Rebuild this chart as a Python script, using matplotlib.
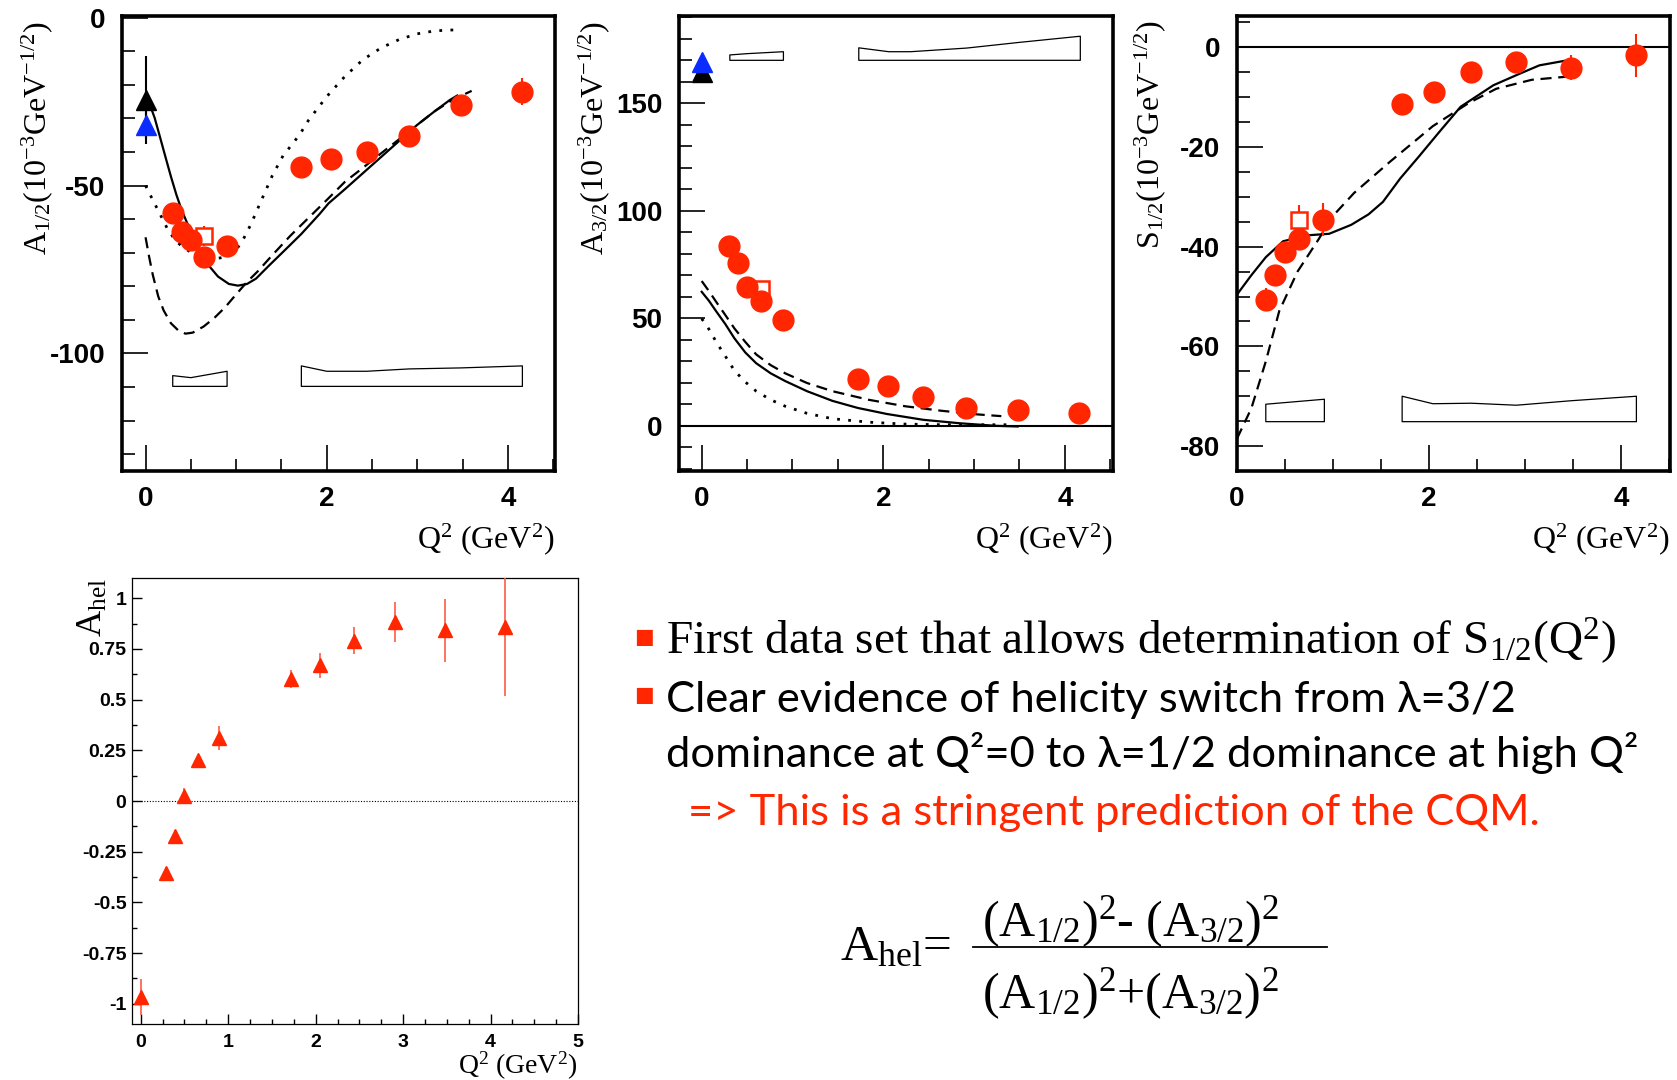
import matplotlib
matplotlib.use('Agg')
import matplotlib.pyplot as plt
from matplotlib.ticker import MultipleLocator, FuncFormatter
from matplotlib.lines import Line2D

plt.rcParams['font.family'] = 'Liberation Sans'
plt.rcParams['axes.unicode_minus'] = False
plt.rcParams['mathtext.fontset'] = 'custom'
plt.rcParams['mathtext.rm'] = 'Liberation Serif'
plt.rcParams['mathtext.it'] = 'Liberation Serif:italic'
plt.rcParams['mathtext.bf'] = 'Liberation Serif:bold'

RED = '#ff2600'

# CLAS data points
q2 = [0.3, 0.4, 0.5, 0.65, 0.9, 1.72, 2.05, 2.44, 2.91, 3.48, 4.16]
a12 = [-58.2, -63.8, -66.2, -71.3, -67.9, -44.5, -42.0, -39.9, -35.1, -25.9, -22.1]
a12_err = [2, 2, 2, 2, 2, 2, 2, 2, 2, 2, 4]
a32 = [83.6, 75.9, 64.3, 58.1, 49.0, 21.9, 18.6, 13.6, 8.3, 7.5, 5.8]
a32_err = [1.5, 1.5, 1.5, 1.5, 1.5, 1.5, 1.5, 1.5, 1.5, 1.5, 1.5]
s12 = [-50.6, -45.6, -41.0, -38.5, -34.6, -11.3, -9.0, -4.9, -2.9, -4.1, -1.6]
s12_err = [2.3, 1.5, 2.0, 2.0, 3.3, 1, 1, 1, 1, 2.5, 4.3]

# open square point
sq_q2 = [0.65]
sq_a12, sq_a12_err = [-65.0], [3]
sq_a32, sq_a32_err = [63.5], [1.5]
sq_s12, sq_s12_err = [-34.7], [3]

# photon point (Q2 = 0)
ph_q2 = [0.0]
black_a12, black_a12_err = [-24.5], [13]
blue_a12, blue_a12_err = [-32.0], [4]
black_a32, black_a32_err = [164.5], [3]
blue_a32, blue_a32_err = [169.0], [2]

# helicity asymmetry
hel_q2 = [0.0, 0.29, 0.39, 0.5, 0.65, 0.9, 1.72, 2.05, 2.44, 2.91, 3.48, 4.17]
hel = [-0.967, -0.354, -0.173, 0.025, 0.20, 0.31, 0.603, 0.669, 0.791, 0.884, 0.843, 0.858]
hel_err = [0.09, 0.03, 0.03, 0.04, 0.02, 0.06, 0.045, 0.06, 0.065, 0.1, 0.155, 0.34]

# model curves, A1/2
a12_sol_q2 = [0.05, 0.1, 0.16, 0.22, 0.28, 0.34, 0.4, 0.46, 0.52, 0.6, 0.7, 0.8, 0.92, 1.02,
              1.12, 1.22, 1.36, 1.52, 1.72, 1.92, 2.02, 2.2, 2.4, 2.6, 2.8, 3.0, 3.2, 3.36, 3.44]
a12_sol = [-26.1, -29.8, -35.6, -41.5, -47.3, -52.7, -57.4, -61.2, -64.9, -69.1, -73.9, -77.1,
           -79.3, -79.8, -79.3, -77.7, -73.9, -69.7, -64.4, -58.5, -55.3, -51.1, -46.3, -41.5,
           -36.7, -31.9, -27.7, -24.5, -23.2]
a12_dash_q2 = [0.0, 0.04, 0.08, 0.14, 0.2, 0.28, 0.36, 0.44, 0.52, 0.64, 0.76, 0.88, 1.0, 1.12,
               1.24, 1.4, 1.6, 1.8, 2.0, 2.2, 2.4, 2.6, 2.8, 3.0, 3.2, 3.4, 3.6]
a12_dash = [-65.4, -71.3, -76.6, -83.0, -87.2, -91.0, -93.1, -94.1, -93.8, -92.0, -89.4, -86.2,
            -82.4, -78.7, -75.5, -70.7, -64.9, -59.6, -54.3, -48.9, -44.7, -40.4, -36.2, -31.9,
            -27.7, -24.3, -21.8]
a12_dot_q2 = [0.0, 0.08, 0.16, 0.24, 0.32, 0.4, 0.52, 0.64, 0.76, 0.88, 0.98, 1.06, 1.16, 1.28,
              1.4, 1.52, 1.64, 1.72, 1.8, 1.9, 2.0, 2.1, 2.2, 2.4, 2.6, 2.8, 3.0, 3.2, 3.44]
a12_dot = [-50.0, -54.3, -58.5, -62.8, -66.0, -68.1, -70.2, -71.3, -71.8, -71.3, -69.7, -67.0,
           -61.7, -54.3, -47.0, -41.0, -37.0, -34.0, -30.5, -27.0, -23.5, -20.5, -17.5, -12.5,
           -9.0, -6.5, -4.8, -3.9, -3.6]

# model curves, A3/2
a32_sol_q2 = [0.0, 0.08, 0.16, 0.26, 0.36, 0.48, 0.6, 0.76, 0.92, 1.16, 1.44, 1.72, 2.04, 2.44,
              2.84, 3.24, 3.48]
a32_sol = [62.3, 58.1, 53.2, 47.3, 40.7, 34.1, 29.1, 24.4, 20.8, 16.1, 11.6, 8.3, 5.5, 2.8, 1.2,
           0.0, -0.3]
a32_dash_q2 = [0.0, 0.08, 0.16, 0.26, 0.36, 0.48, 0.6, 0.76, 0.92, 1.16, 1.44, 1.84, 2.24, 2.64,
               3.04, 3.3]
a32_dash = [67.3, 62.6, 57.6, 51.5, 45.3, 39.0, 33.2, 28.2, 24.4, 19.9, 16.1, 12.1, 9.1, 7.0, 5.3, 4.5]
a32_dot_q2 = [0.0, 0.08, 0.16, 0.26, 0.36, 0.48, 0.6, 0.76, 0.92, 1.16, 1.44, 1.84, 2.24, 2.64, 3.44]
a32_dot = [49.8, 44.9, 39.0, 32.4, 25.7, 20.4, 16.1, 12.1, 9.1, 5.8, 3.3, 1.7, 0.8, 0.5, 0.5]

# model curves, S1/2
s12_sol_q2 = [0.0, 0.15, 0.3, 0.48, 0.74, 0.96, 1.19, 1.37, 1.52, 1.7, 1.89, 2.11, 2.33, 2.67,
              2.93, 3.15, 3.41]
s12_sol = [-49.6, -45.7, -42.1, -38.9, -37.7, -37.4, -35.6, -33.5, -31.0, -26.3, -22.0, -16.9,
           -11.9, -7.6, -5.4, -3.6, -2.7]
s12_dash_q2 = [0.0, 0.15, 0.3, 0.44, 0.63, 0.85, 1.0, 1.22, 1.59, 2.04, 2.41, 2.7, 3.07, 3.48]
s12_dash = [-78.5, -72.4, -63.0, -52.9, -45.0, -38.5, -33.8, -29.2, -23.0, -15.8, -11.2, -8.3,
            -6.5, -5.8]

# systematic error bands: (q2, top), common bottom
a12_box1_q2, a12_box1_top, a12_box_bot = [0.3, 0.5, 0.9], [-106.6, -107.2, -105.3], -109.8
a12_box2_q2 = [1.72, 2.0, 2.44, 2.91, 3.48, 4.16]
a12_box2_top = [-103.7, -105.3, -105.3, -104.6, -104.3, -103.7]
a32_box1_q2, a32_box1_top, a32_box_bot = [0.31, 0.5, 0.9], [172.4, 173.0, 173.9], 169.9
a32_box2_q2 = [1.73, 2.06, 2.3, 2.92, 3.49, 4.17]
a32_box2_top = [175.7, 173.9, 173.9, 175.6, 178.2, 181.1]
s12_box1_q2, s12_box1_top, s12_box_bot = [0.3, 0.91], [-71.6, -70.6], -75.1
s12_box2_q2 = [1.72, 2.04, 2.44, 2.91, 3.48, 4.16]
s12_box2_top = [-70.0, -71.5, -71.4, -71.8, -70.9, -70.0]

W, H = 1677, 1080
fig = plt.figure(figsize=(W / 100, H / 100), dpi=100)


def px_axes(x0, y0, x1, y1):
    return fig.add_axes([x0 / W, 1 - y1 / H, (x1 - x0) / W, (y1 - y0) / H])


ax1 = px_axes(122, 16, 555, 471)
ax2 = px_axes(679, 16, 1113, 471)
ax3 = px_axes(1237, 16, 1670, 471)
ax4 = px_axes(132, 578, 578, 1024)

ylab_kw = dict(fontsize=23, family='Liberation Serif', loc='top')
xlab = r'$\mathrm{Q}^{2}\ \mathrm{(GeV}^{2}\mathrm{)}$'


def style_top(ax, ymaj, ymin):
    for s in ax.spines.values():
        s.set_linewidth(2.6)
    ax.xaxis.set_major_locator(MultipleLocator(2))
    ax.xaxis.set_minor_locator(MultipleLocator(0.5))
    ax.yaxis.set_major_locator(MultipleLocator(ymaj))
    ax.yaxis.set_minor_locator(MultipleLocator(ymin))
    ax.tick_params(which='both', direction='in', top=False, right=False, width=1.2)
    ax.tick_params(which='major', length=19, labelsize=20)
    ax.tick_params(which='minor', length=9)
    ax.tick_params(axis='y', which='major', pad=12)
    ax.tick_params(axis='x', which='major', pad=11)
    for lab in ax.get_xticklabels() + ax.get_yticklabels():
        lab.set_fontweight('bold')
    ax.set_xlabel(xlab, fontsize=23, loc='right')
    ax.xaxis.set_label_coords(1.0, -0.11)


def draw_boxes(ax, boxes, bottom):
    for bq, bt in boxes:
        ax.fill_between(bq, bottom, bt, facecolor='none', edgecolor='black', linewidth=0.9, zorder=2)


def draw_points(ax, y, yerr, sq, sq_err):
    ax.errorbar(sq_q2, sq, yerr=sq_err, fmt='s', ms=11, mfc='white', mec=RED, mew=1.8,
                ecolor=RED, elinewidth=1.5, capsize=0, zorder=4)
    ax.errorbar(q2, y, yerr=yerr, fmt='o', ms=15, color=RED, ecolor=RED,
                elinewidth=1.5, capsize=0, zorder=5)


# panel A1/2
ax1.plot(a12_sol_q2, a12_sol, color='black', lw=1.6, zorder=3)
ax1.plot(a12_dash_q2, a12_dash, color='black', lw=1.6, ls=(0, (5, 3)), zorder=3)
ax1.plot(a12_dot_q2, a12_dot, color='black', lw=2, ls=(0, (1, 3)), zorder=3)
draw_boxes(ax1, [(a12_box1_q2, a12_box1_top), (a12_box2_q2, a12_box2_top)], a12_box_bot)
draw_points(ax1, a12, a12_err, sq_a12, sq_a12_err)
ax1.errorbar(ph_q2, black_a12, yerr=black_a12_err, fmt='^', ms=14, color='black', elinewidth=1.5, zorder=5)
ax1.errorbar(ph_q2, blue_a12, yerr=blue_a12_err, fmt='^', ms=14, color='#0a2cff', ecolor='black',
             elinewidth=1.5, zorder=6)
ax1.set_xlim(-0.26, 4.52)
ax1.set_ylim(-135, 0.5)
style_top(ax1, 50, 10)
ax1.set_ylabel(r'$\mathrm{A}_{1/2}(10^{-3}\mathrm{GeV}^{-1/2})$', **ylab_kw)
ax1.yaxis.set_label_coords(-0.155, 0.99)

# panel A3/2
ax2.axhline(0, color='black', lw=1.5, zorder=2)
ax2.plot(a32_sol_q2, a32_sol, color='black', lw=1.6, zorder=3)
ax2.plot(a32_dash_q2, a32_dash, color='black', lw=1.6, ls=(0, (5, 3)), zorder=3)
ax2.plot(a32_dot_q2, a32_dot, color='black', lw=2, ls=(0, (1, 3)), zorder=3)
draw_boxes(ax2, [(a32_box1_q2, a32_box1_top), (a32_box2_q2, a32_box2_top)], a32_box_bot)
draw_points(ax2, a32, a32_err, sq_a32, sq_a32_err)
ax2.errorbar(ph_q2, black_a32, yerr=black_a32_err, fmt='^', ms=14, color='black', elinewidth=1.5, zorder=5)
ax2.errorbar(ph_q2, blue_a32, yerr=blue_a32_err, fmt='^', ms=14, color='#0a2cff', ecolor='black',
             elinewidth=1.5, zorder=6)
ax2.set_xlim(-0.25, 4.53)
ax2.set_ylim(-21, 190.5)
style_top(ax2, 50, 10)
ax2.set_ylabel(r'$\mathrm{A}_{3/2}(10^{-3}\mathrm{GeV}^{-1/2})$', **ylab_kw)
ax2.yaxis.set_label_coords(-0.155, 0.99)

# panel S1/2
ax3.axhline(0, color='black', lw=1.5, zorder=2)
ax3.plot(s12_sol_q2, s12_sol, color='black', lw=1.6, zorder=3)
ax3.plot(s12_dash_q2, s12_dash, color='black', lw=1.6, ls=(0, (5, 3)), zorder=3)
draw_boxes(ax3, [(s12_box1_q2, s12_box1_top), (s12_box2_q2, s12_box2_top)], s12_box_bot)
draw_points(ax3, s12, s12_err, sq_s12, sq_s12_err)
ax3.set_xlim(0, 4.51)
ax3.set_ylim(-85, 6.3)
style_top(ax3, 20, 5)
ax3.set_ylabel(r'$\mathrm{S}_{1/2}(10^{-3}\mathrm{GeV}^{-1/2})$', **ylab_kw)
ax3.yaxis.set_label_coords(-0.16, 0.99)

# panel A_hel
ax4.hlines(0, 0, 5, colors='black', linestyles=(0, (1, 1.5)), linewidth=0.8)
ax4.errorbar(hel_q2, hel, yerr=hel_err, fmt='^', ms=10.5, color=RED, ecolor='#ff5a45',
             elinewidth=1.2, capsize=0, zorder=5)
ax4.set_xlim(-0.1, 5)
ax4.set_ylim(-1.1, 1.1)
for s in ax4.spines.values():
    s.set_linewidth(0.9)
ax4.xaxis.set_major_locator(MultipleLocator(1))
ax4.xaxis.set_minor_locator(MultipleLocator(0.25))
ax4.yaxis.set_major_locator(MultipleLocator(0.25))
ax4.yaxis.set_minor_locator(MultipleLocator(0.125))
ax4.yaxis.set_major_formatter(FuncFormatter(lambda v, p: f'{v:g}'))
ax4.tick_params(which='both', direction='in', top=False, right=False, width=1)
ax4.tick_params(which='major', length=7, labelsize=14)
ax4.tick_params(which='minor', length=3.5)
ax4.tick_params(axis='y', which='major', pad=4)
ax4.tick_params(axis='x', which='major', pad=7)
for lab in ax4.get_xticklabels() + ax4.get_yticklabels():
    lab.set_fontweight('bold')
ax4.set_xlabel(xlab, fontsize=20, loc='right')
ax4.xaxis.set_label_coords(1.0, -0.058)
ax4.set_ylabel(r'$\mathrm{A}_{\mathrm{hel}}$', fontsize=26, loc='top')
ax4.yaxis.set_label_coords(-0.05, 1.0)

# slide text
fig.text(644 / W, 1 - 637 / H, '\u25a0', color=RED, fontsize=15, family='DejaVu Sans',
         ha='center', va='center')
fig.text(666 / W, 1 - 654 / H,
         r'First data set that allows determination of $\mathrm{S}_{1/2}(\mathrm{Q}^{2})$',
         fontsize=34, family='Liberation Serif', va='baseline')
fig.text(644 / W, 1 - 695 / H, '\u25a0', color=RED, fontsize=15, family='DejaVu Sans',
         ha='center', va='center')
fig.text(666 / W, 1 - 712 / H, 'Clear evidence of helicity switch from \u03bb=3/2',
         fontsize=31.3, family='Lato', va='baseline')
fig.text(666 / W, 1 - 767 / H, 'dominance at Q\u00b2=0 to \u03bb=1/2 dominance at high Q\u00b2',
         fontsize=31.3, family='Lato', va='baseline')
fig.text(688 / W, 1 - 825 / H, '=> This is a stringent prediction of the CQM.',
         fontsize=31.3, family='Lato', color=RED, va='baseline')

fig.text(840 / W, 1 - 960 / H, r'$\mathrm{A}_{\mathrm{hel}}$=', fontsize=37,
         family='Liberation Serif', va='baseline')
fig.text(982 / W, 1 - 936 / H, r'$(\mathrm{A}_{1/2})^{2}$- $(\mathrm{A}_{3/2})^{2}$', fontsize=36,
         family='Liberation Serif', va='baseline')
fig.add_artist(Line2D([973 / W, 1327 / W], [1 - 947 / H, 1 - 947 / H], color='black', lw=1.3))
fig.text(982 / W, 1 - 1008 / H, r'$(\mathrm{A}_{1/2})^{2}$+$(\mathrm{A}_{3/2})^{2}$', fontsize=36,
         family='Liberation Serif', va='baseline')

fig.savefig('out.png', dpi=100)
